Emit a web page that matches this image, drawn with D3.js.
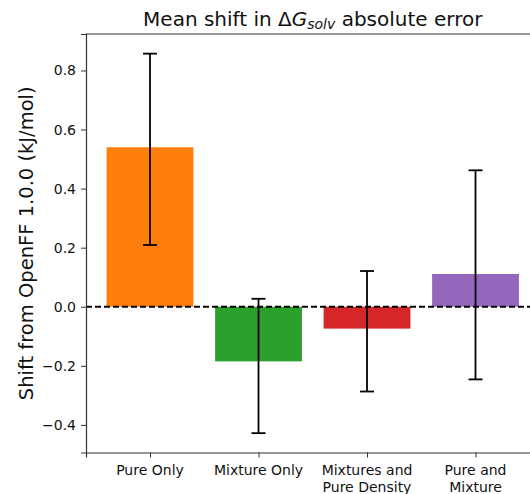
<!DOCTYPE html>
<html>
<head>
<meta charset="utf-8">
<script src="https://cdn.jsdelivr.net/npm/d3@7"></script>
<style>
  body { margin: 0; background: #fff; }
  text { font-family: "DejaVu Sans", sans-serif; fill: #111; }
</style>
</head>
<body>
<div id="chart"></div>
<script>
// Values
var categories = [["Pure Only"], ["Mixture Only"], ["Mixtures and", "Pure Density"], ["Pure and", "Mixture"]];
var shifts = [0.540, -0.185, -0.074, 0.111];
var errLow = [0.209, -0.428, -0.287, -0.246];
var errHigh = [0.857, 0.027, 0.121, 0.462];
var colors = ["#ff7f0e", "#2ca02c", "#d62728", "#9467bd"];
var yTicks = [-0.4, -0.2, 0.0, 0.2, 0.4, 0.6, 0.8];

var width = 530, height = 494;
var margin = {top: 34, left: 86, bottom: 494 - 452.5};

var svg = d3.select("#chart").append("svg")
    .attr("width", width)
    .attr("height", height);

// x axis spans beyond the picture, as the reference is cropped on the right
var x = d3.scaleLinear().domain([-0.59, 3.59]).range([margin.left, margin.left + 4.18 * 108.5]);
var y = d3.scaleLinear().domain([-0.4935, 0.9235]).range([height - margin.bottom, margin.top]);
var barW = 0.8;

// bars
svg.selectAll(".bar")
    .data(shifts)
  .enter().append("rect")
    .attr("class", "bar")
    .attr("x", (d, i) => x(i - barW / 2))
    .attr("width", x(barW) - x(0))
    .attr("y", d => y(Math.max(0, d)))
    .attr("height", d => Math.abs(y(d) - y(0)))
    .attr("fill", (d, i) => colors[i]);

// zero line
svg.append("line")
    .attr("x1", x(-0.59)).attr("x2", width)
    .attr("y1", y(0)).attr("y2", y(0))
    .attr("stroke", "#000")
    .attr("stroke-width", 1.8)
    .attr("stroke-dasharray", "6,3");

// error bars
var eb = svg.selectAll(".err")
    .data(shifts)
  .enter().append("g")
    .attr("class", "err")
    .attr("stroke", "#000")
    .attr("stroke-width", 1.8);

eb.append("line")
    .attr("x1", (d, i) => x(i)).attr("x2", (d, i) => x(i))
    .attr("y1", (d, i) => y(errLow[i])).attr("y2", (d, i) => y(errHigh[i]));
eb.append("line")
    .attr("x1", (d, i) => x(i) - 7).attr("x2", (d, i) => x(i) + 7)
    .attr("y1", (d, i) => y(errLow[i])).attr("y2", (d, i) => y(errLow[i]));
eb.append("line")
    .attr("x1", (d, i) => x(i) - 7).attr("x2", (d, i) => x(i) + 7)
    .attr("y1", (d, i) => y(errHigh[i])).attr("y2", (d, i) => y(errHigh[i]));

// axes
var yAxis = svg.append("g")
    .attr("transform", "translate(" + margin.left + ",0)")
    .call(d3.axisLeft(y).tickValues(yTicks).tickSize(5).tickPadding(5)
      .tickFormat(d => d3.format(".1f")(d).replace("-", "\u2212")));

var xAxis = svg.append("g")
    .attr("transform", "translate(0," + (height - margin.bottom) + ")")
    .call(d3.axisBottom(x).tickValues([0, 1, 2, 3]).tickSize(5).tickFormat(""));

[yAxis, xAxis].forEach(g => {
  g.select(".domain").attr("stroke", "#333").attr("stroke-width", 1.2);
  g.selectAll(".tick line").attr("stroke", "#333").attr("stroke-width", 1);
  g.selectAll("text").style("font-size", "14px").attr("fill", "#111");
});

// top spine
svg.append("line")
    .attr("x1", margin.left).attr("x2", width)
    .attr("y1", margin.top).attr("y2", margin.top)
    .attr("stroke", "#333").attr("stroke-width", 1.2);

// x tick labels (two lines)
var labels = svg.selectAll(".xlab")
    .data(categories)
  .enter().append("text")
    .attr("class", "xlab")
    .attr("text-anchor", "middle")
    .style("font-size", "14px");
labels.selectAll("tspan")
    .data((d, i) => d.map(s => ({s: s, i: i})))
  .enter().append("tspan")
    .attr("x", d => x(d.i))
    .attr("y", (d, j) => 475 + j * 16.5)
    .text(d => d.s);

// y label
svg.append("text")
    .attr("transform", "translate(33," + ((margin.top + height - margin.bottom) / 2) + ") rotate(-90)")
    .attr("text-anchor", "middle")
    .style("font-size", "19.5px")
    .text("Shift from OpenFF 1.0.0 (kJ/mol)");

// title
var title = svg.append("text")
    .attr("x", (x(-0.59) + x(3.59)) / 2)
    .attr("y", 26)
    .attr("text-anchor", "middle")
    .style("font-size", "20px");
title.append("tspan").text("Mean shift in \u0394");
title.append("tspan").style("font-style", "italic").text("G");
title.append("tspan").style("font-style", "italic").style("font-size", "14px").attr("dy", 3).text("solv");
title.append("tspan").attr("dy", -3).text(" absolute error");
</script>
</body>
</html>
